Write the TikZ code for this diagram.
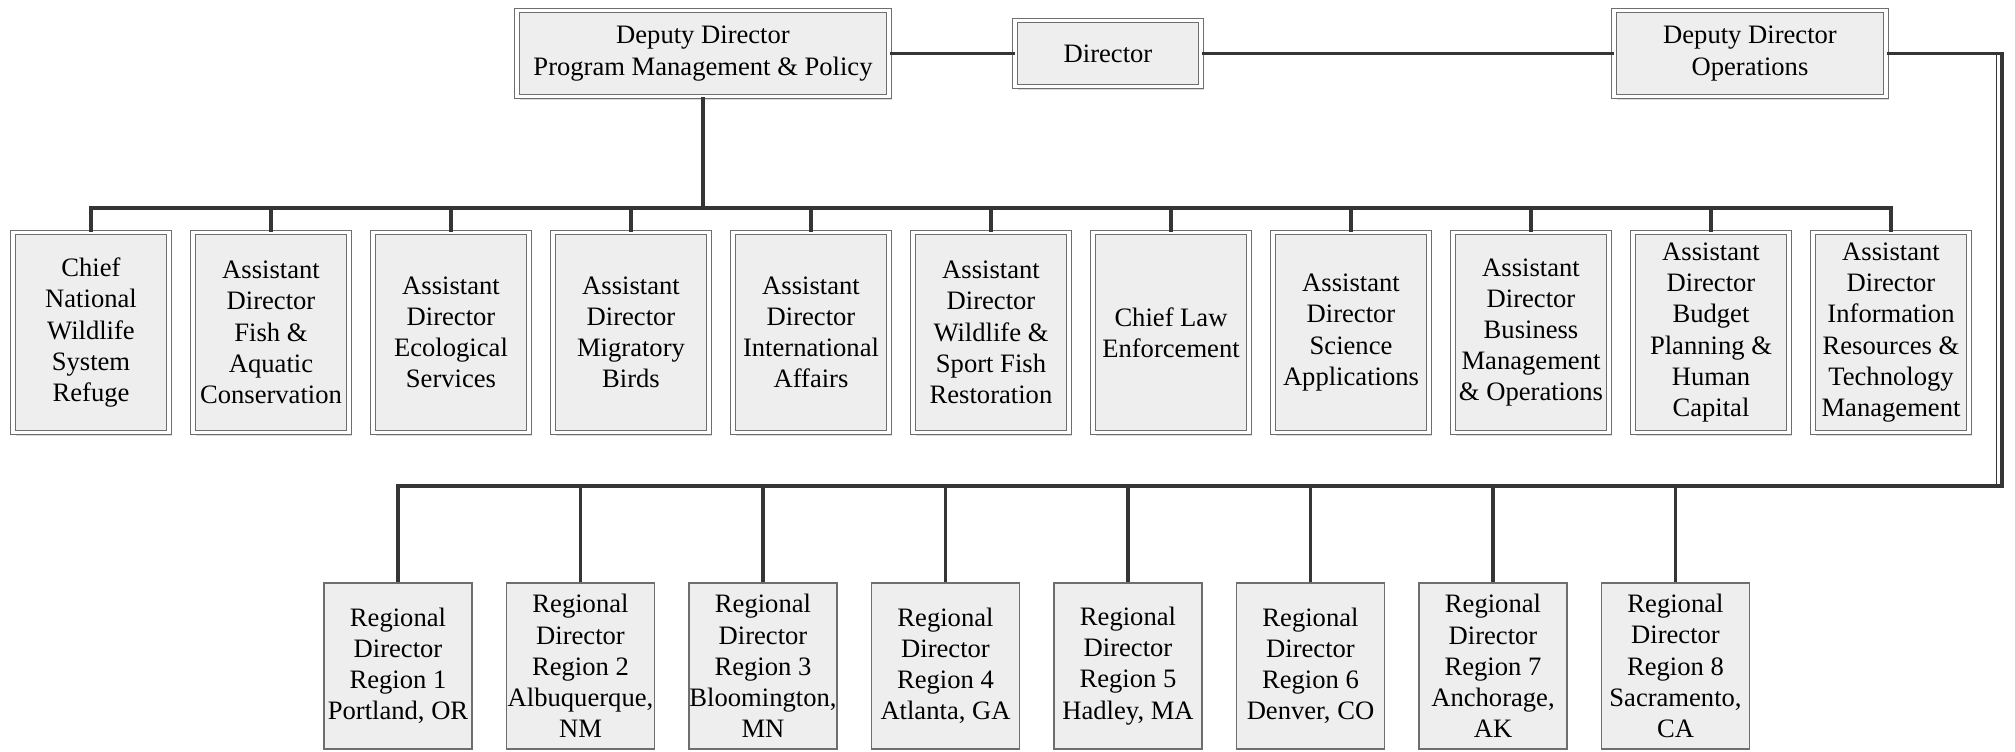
\documentclass[tikz,border=0pt]{standalone}
\usepackage{fontspec}
\setmainfont{Liberation Serif}
\usepackage{tikz}
\usetikzlibrary{shadows}
\definecolor{kutuGri}{HTML}{EEEEEE}
\definecolor{kenarGri}{HTML}{6E6E6E}
\definecolor{hatKoyu}{HTML}{353535}
\begin{document}
\begin{tikzpicture}[x=0.5pt,y=-0.5pt,
  every node/.style={font=\fontsize{13.3}{15.6}\selectfont,align=center,inner sep=0pt},
  office/.style={draw=kenarGri,line width=0.5pt,double=white,double distance=1.6pt,fill=kutuGri,
    drop shadow={shadow xshift=1.5pt,shadow yshift=-1.5pt,opacity=0.25,fill=black!60}},
  chief/.style={office,minimum width=78pt,minimum height=100pt},
  region/.style={draw=kenarGri,line width=0.6pt,fill=kutuGri,minimum width=74pt,minimum height=83pt},
  link/.style={draw=hatKoyu,line width=1.6pt}]
\useasboundingbox (0,0) rectangle (2015,751);
% top row
\node[office,minimum width=186pt,minimum height=43pt] (pmp) at (703,53.5) {Deputy Director\\Program Management \& Policy};
\node[office,minimum width=93pt,minimum height=33pt] (dir) at (1108,53.5) {Director};
\node[office,minimum width=136pt,minimum height=43pt] (ops) at (1750,53.5) {Deputy Director\\Operations};
% assistant directors
\node[chief] (c1) at (91,332.5) {Chief\\National\\Wildlife\\System\\Refuge};
\node[chief] (c2) at (271,332.5) {Assistant\\Director\\Fish \&\\Aquatic\\Conservation};
\node[chief] (c3) at (451,332.5) {Assistant\\Director\\Ecological\\Services};
\node[chief] (c4) at (631,332.5) {Assistant\\Director\\Migratory\\Birds};
\node[chief] (c5) at (811,332.5) {Assistant\\Director\\International\\Affairs};
\node[chief] (c6) at (991,332.5) {Assistant\\Director\\Wildlife \&\\Sport Fish\\Restoration};
\node[chief] (c7) at (1171,332.5) {Chief Law\\Enforcement};
\node[chief] (c8) at (1351,332.5) {Assistant\\Director\\Science\\Applications};
\node[chief] (c9) at (1531,332.5) {Assistant\\Director\\Business\\Management\\\& Operations};
\node[chief] (c10) at (1711,332.5) {Assistant\\Director\\Budget\\Planning \&\\Human\\Capital};
\node[chief] (c11) at (1891,332.5) {Assistant\\Director\\Information\\Resources \&\\Technology\\Management};
% regional directors
\node[region] (r1) at (398,666) {Regional\\Director\\Region 1\\Portland, OR};
\node[region] (r2) at (580.5,666) {Regional\\Director\\Region 2\\Albuquerque,\\NM};
\node[region] (r3) at (763,666) {Regional\\Director\\Region 3\\Bloomington,\\MN};
\node[region] (r4) at (945.5,666) {Regional\\Director\\Region 4\\Atlanta, GA};
\node[region] (r5) at (1128,666) {Regional\\Director\\Region 5\\Hadley, MA};
\node[region] (r6) at (1310.5,666) {Regional\\Director\\Region 6\\Denver, CO};
\node[region] (r7) at (1493,666) {Regional\\Director\\Region 7\\Anchorage,\\AK};
\node[region] (r8) at (1675.5,666) {Regional\\Director\\Region 8\\Sacramento,\\CA};
\coordinate (bus1) at (703,208);
\coordinate (bus2) at (2002,486);
% connectors
\draw[link] (pmp) -- (dir); \draw[link] (dir) -- (ops);
\draw[link] (pmp) -- (bus1);
\draw[link] (c1.north) -- (c1.north |- bus1) -- (c11.north |- bus1) -- (c11.north);
\foreach \k in {2,...,10} \draw[link] (c\k.north) -- (c\k.north |- bus1);
\draw[link] (ops.east) -| (bus2) -| (r1.north);
\draw[draw=hatKoyu,line width=0.6pt] ([xshift=-2.6pt]bus2 |- ops.east) -- ([xshift=-2.6pt]bus2);
\foreach \k in {2,...,8} \draw[link] (r\k.north) -- (r\k.north |- bus2);
\end{tikzpicture}
\end{document}
